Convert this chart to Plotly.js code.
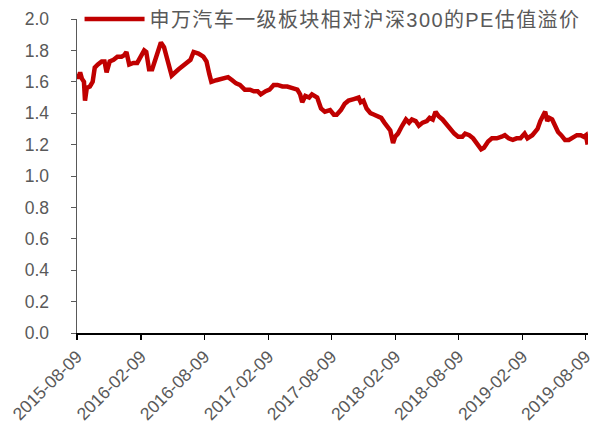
<!DOCTYPE html>
<html>
<head>
<meta charset="utf-8">
<script src="https://cdn.plot.ly/plotly-3.0.1.min.js"></script>
<style>
html,body{margin:0;padding:0;background:#fff;}
#chart{width:595px;height:425px;}
.legendtext{letter-spacing:1.4px;}
</style>
</head>
<body>
<div id="chart"></div>
<script>
const seriesName = "申万汽车一级板块相对沪深300的PE估值溢价";
const dates = [
"2015-08-09","2015-08-12","2015-08-18","2015-08-23","2015-08-29","2015-09-01","2015-09-06","2015-09-15","2015-09-23","2015-09-29",
"2015-10-08","2015-10-19","2015-10-27","2015-11-02","2015-11-11","2015-11-22","2015-12-03","2015-12-15","2015-12-23","2015-12-29",
"2016-01-06","2016-01-18","2016-01-29","2016-02-09","2016-02-18","2016-02-24","2016-03-03","2016-03-12","2016-03-23","2016-04-01",
"2016-04-06","2016-04-15","2016-04-26","2016-05-07","2016-05-27","2016-06-16","2016-06-30","2016-07-09","2016-07-23","2016-08-06",
"2016-08-15","2016-08-23","2016-08-29","2016-09-12","2016-09-29","2016-10-16","2016-10-28","2016-11-08","2016-11-19","2016-12-03",
"2016-12-18","2016-12-29","2017-01-09","2017-01-18","2017-02-01","2017-02-12","2017-02-24","2017-03-07","2017-03-21","2017-04-04",
"2017-04-19","2017-05-03","2017-05-11","2017-05-17","2017-05-26","2017-06-06","2017-06-14","2017-06-29","2017-07-10","2017-07-21",
"2017-08-05","2017-08-16","2017-08-24","2017-09-05","2017-09-16","2017-09-27","2017-10-12","2017-10-26","2017-11-01","2017-11-09",
"2017-11-18","2017-11-29","2017-12-10","2017-12-22","2017-12-30","2018-01-08","2018-01-16","2018-01-25","2018-01-30","2018-02-02",
"2018-02-08","2018-02-16","2018-02-28","2018-03-11","2018-03-20","2018-03-28","2018-04-08","2018-04-17","2018-04-28","2018-05-10",
"2018-05-18","2018-05-27","2018-06-04","2018-06-13","2018-06-24","2018-07-05","2018-07-17","2018-07-28","2018-08-08","2018-08-20",
"2018-08-28","2018-09-09","2018-09-20","2018-10-01","2018-10-13","2018-10-21","2018-11-02","2018-11-13","2018-11-27","2018-12-11",
"2018-12-20","2018-12-31","2019-01-12","2019-01-23","2019-02-03","2019-02-15","2019-02-23","2019-03-09","2019-03-24","2019-04-01",
"2019-04-10","2019-04-15","2019-04-21","2019-04-27","2019-05-05","2019-05-14","2019-05-22","2019-05-31","2019-06-11","2019-06-22",
"2019-07-04","2019-07-15","2019-07-26","2019-08-04","2019-08-10","2019-08-15"
];
const values = [
1.65,1.62,1.66,1.62,1.60,1.48,1.56,1.57,1.60,1.69,
1.71,1.73,1.73,1.66,1.73,1.74,1.76,1.76,1.77,1.79,
1.71,1.72,1.72,1.77,1.80,1.79,1.68,1.68,1.76,1.82,
1.85,1.82,1.72,1.64,1.68,1.72,1.74,1.79,1.78,1.76,
1.73,1.65,1.60,1.61,1.62,1.63,1.61,1.59,1.58,1.55,
1.55,1.54,1.54,1.52,1.54,1.55,1.58,1.58,1.57,1.57,
1.56,1.55,1.52,1.47,1.51,1.50,1.52,1.50,1.43,1.41,
1.42,1.39,1.39,1.42,1.46,1.48,1.49,1.50,1.47,1.48,
1.43,1.40,1.39,1.38,1.37,1.34,1.31,1.29,1.24,1.21,
1.25,1.27,1.32,1.36,1.34,1.36,1.35,1.32,1.34,1.35,
1.37,1.36,1.41,1.38,1.36,1.33,1.29,1.27,1.25,1.25,
1.27,1.26,1.24,1.20,1.17,1.18,1.22,1.24,1.24,1.25,
1.26,1.24,1.23,1.24,1.24,1.27,1.24,1.26,1.30,1.35,
1.39,1.41,1.35,1.37,1.36,1.32,1.28,1.26,1.23,1.23,
1.25,1.26,1.26,1.25,1.26,1.20
];
const xTicks = ["2015-08-09","2016-02-09","2016-08-09","2017-02-09","2017-08-09","2018-02-09","2018-08-09","2019-02-09","2019-08-09"];
const xRange = ["2015-08-09","2019-08-16"];
const yTicks = [0.0,0.2,0.4,0.6,0.8,1.0,1.2,1.4,1.6,1.8,2.0];

const fontFam = '"Liberation Sans", Arial, "Noto Sans CJK SC", sans-serif';
const trace = {
  x: dates, y: values, type: 'scatter', mode: 'lines', name: seriesName,
  line: {color: '#C00000', width: 4.5}, cliponaxis: false
};
const layout = {
  width: 595, height: 425,
  margin: {l: 77, r: 7, t: 19, b: 92, autoexpand: false},
  paper_bgcolor: '#fff', plot_bgcolor: '#fff',
  font: {family: fontFam, color: '#595959', size: 17},
  showlegend: true,
  legend: {x: 0.005, y: 1, xanchor: 'left', yanchor: 'middle', bgcolor: 'rgba(0,0,0,0)',
           font: {size: 20, color: '#595959', family: fontFam}, itemwidth: 60},
  xaxis: {
    type: 'date', range: xRange, tickvals: xTicks, ticktext: xTicks, tickangle: -45,
    showgrid: false, zeroline: false, showline: true, linecolor: '#000', linewidth: 1.5,
    ticks: 'outside', ticklen: 5, tickcolor: '#000', tickwidth: 1.5,
    ticklabeloverflow: 'allow', automargin: false,
    tickfont: {size: 17.5, color: '#595959'}
  },
  yaxis: {
    range: [0, 2], tickvals: yTicks, tickformat: '.1f', automargin: false,
    showgrid: false, zeroline: false, showline: true, linecolor: '#595959', linewidth: 1.5,
    ticks: 'outside', ticklen: 5, tickcolor: '#595959', ticklabelstandoff: 18,
    tickfont: {size: 17.5, color: '#595959'}
  }
};
Plotly.newPlot('chart', [trace], layout, {displayModeBar: false, staticPlot: true});
</script>
</body>
</html>
